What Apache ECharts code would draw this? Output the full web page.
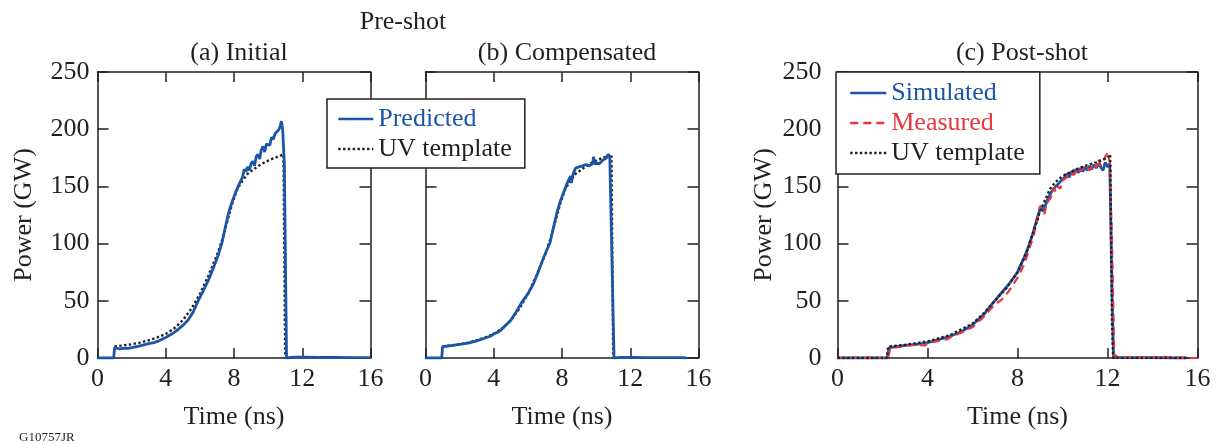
<!DOCTYPE html>
<html><head><meta charset="utf-8">
<script src="https://cdn.jsdelivr.net/npm/echarts@6/dist/echarts.min.js"></script>
<style>html,body{margin:0;padding:0;background:#fff}#c{width:1216px;height:445px}</style>
</head><body><div id="c"></div>
<script>
// ---- tick labels ----
const xTicks = [0, 4, 8, 12, 16];
const yTicks = [0, 50, 100, 150, 200, 250];

// ---- panel (a) Initial ----
const predA_t = [0, 0.95, 1.0, 1.1, 1.3, 1.5, 1.8, 2.0, 2.3, 2.6, 3.0, 3.3, 3.6, 4.0, 4.3, 4.6, 5.0, 5.3, 5.6, 5.9, 6.2, 6.5, 6.8, 7.1, 7.3, 7.5, 7.7, 7.9, 8.1, 8.3, 8.5, 8.6, 8.7, 8.8, 8.9, 9.0, 9.1, 9.2, 9.3, 9.4, 9.5, 9.6, 9.7, 9.8, 9.9, 10.0, 10.1, 10.2, 10.3, 10.4, 10.5, 10.6, 10.7, 10.78, 10.85, 10.95, 11.08, 11.5, 12, 13, 14, 15, 16];
const predA_p = [0, 0, 9, 8.5, 8, 8.5, 8.5, 9, 10, 11, 12.5, 13.5, 15, 18, 20.5, 23.5, 28.5, 33, 40, 50, 59, 68, 79, 91, 101, 115, 128, 137, 145, 152, 158, 165, 163, 167, 164, 170, 172, 168, 176, 178, 174, 182, 185, 180, 187, 188, 186, 193, 191, 196, 197, 199, 202, 207, 200, 170, 0, 0.8, 0.8, 0.5, 0.5, 0.3, 0.3];

// ---- UV template (pre-shot, panels a and b) ----
const tmpl_t = [1.0, 1.5, 2.0, 2.5, 3.0, 3.5, 4.0, 4.5, 5.0, 5.5, 6.0, 6.5, 7.0, 7.3, 7.6, 7.9, 8.2, 8.5, 8.8, 9.2, 9.6, 10.0, 10.4, 10.9, 11.0];
const tmpl_p = [10, 11, 12, 13.5, 15.5, 18, 21, 26, 33, 43, 56, 72, 90, 103, 119, 135, 148, 155, 161, 165.5, 169.5, 172.5, 175, 178, 0];

// ---- panel (b) Compensated ----
const predB_t = [0, 0.95, 1.0, 1.3, 1.6, 2.0, 2.5, 3.0, 3.5, 3.8, 4.0, 4.3, 4.6, 5.0, 5.3, 5.7, 6.0, 6.3, 6.6, 6.9, 7.1, 7.3, 7.5, 7.7, 7.9, 8.1, 8.23, 8.4, 8.5, 8.55, 8.6, 8.7, 8.8, 9.0, 9.2, 9.4, 9.6, 9.8, 9.85, 9.9, 10.0, 10.2, 10.4, 10.5, 10.6, 10.7, 10.8, 11.05, 11.5, 12, 13, 14, 15, 15.3];
const predB_p = [0, 0, 10, 10.5, 11, 12, 13, 15, 17.5, 19, 21, 23, 27, 33, 40, 50, 56, 64, 75, 87, 94, 101, 114, 127, 137, 145, 150, 156, 159, 153, 158, 163, 166, 167, 168, 169, 168, 170, 176, 170, 171, 170, 173, 174, 175, 178, 176, 0, 0.5, 0.5, 0.3, 0.3, 0.3, 0];

// ---- panel (c) Post-shot ----
const simC_t = [0, 1, 2.2, 2.3, 2.6, 3.0, 3.5, 4.0, 4.5, 5.0, 5.5, 6.0, 6.5, 6.9, 7.2, 7.6, 8.0, 8.3, 8.5, 8.7, 8.9, 9.05, 9.15, 9.25, 9.35, 9.5, 9.7, 9.9, 10.1, 10.2, 10.3, 10.4, 10.5, 10.6, 10.7, 10.8, 10.9, 11.0, 11.1, 11.2, 11.3, 11.4, 11.5, 11.6, 11.7, 11.8, 11.9, 12.0, 12.1, 12.2, 12.27, 12.5, 13, 14, 15, 15.5];
const simC_p = [0, 0, 0, 9, 10, 11, 12, 13.5, 16, 19, 23, 29, 38, 48, 55, 64, 75, 88, 98, 110, 124, 133, 128, 134, 139, 145, 150, 154, 158, 161, 158, 163, 161, 165, 162, 166, 163, 167, 164, 168, 165, 169, 166, 170, 167, 164, 171, 167, 170, 60, 1, 0.5, 0.3, 0.3, 0, 0];
const measC_t = [0, 0.5, 1, 1.5, 2.0, 2.25, 2.35, 2.7, 3.0, 3.5, 3.9, 4.0, 4.5, 4.9, 5.0, 5.5, 6.0, 6.5, 7.0, 7.3, 7.6, 8.0, 8.3, 8.5, 8.7, 8.9, 9.0, 9.1, 9.2, 9.3, 9.5, 9.6, 9.7, 9.8, 9.9, 10.0, 10.2, 10.3, 10.5, 10.7, 10.8, 11.0, 11.2, 11.4, 11.5, 11.6, 11.7, 11.8, 11.9, 12.0, 12.1, 12.2, 12.3, 12.5, 13, 13.5, 14, 14.5, 15, 15.5, 16];
const measC_p = [0, 0.3, 0, 0.3, 0, 0, 9, 9.5, 10.5, 11.5, 11, 13, 15, 16.5, 18, 22, 27, 36, 47, 51, 58, 70, 82, 94, 106, 122, 133, 128, 126, 135, 141, 149, 145, 150, 148, 155, 158, 162, 160, 166, 163, 168, 164, 170, 166, 174, 168, 172, 176, 179, 172, 100, 3, 0.3, 0.5, 0.3, 0.5, 1, 0.5, 0, 0];
const tmplC_t = [0, 2.2, 2.25, 3.0, 4.0, 5.0, 6.0, 6.5, 7.0, 7.5, 8.0, 8.4, 8.7, 9.0, 9.2, 9.45, 9.7, 10.0, 10.5, 11.0, 11.5, 12.0, 12.12, 12.2, 12.25, 13, 14, 15, 15.5];
const tmplC_p = [0, 0, 10, 11.5, 14.5, 20, 30, 39, 50, 61, 75, 92, 110, 128, 137, 148, 154, 159, 164, 168, 171, 175, 178, 30, 0, 0, 0, 0, 0];

// ---- style ----
const FONT = 'Liberation Serif';
const INK = '#231f20';
const BLUE = '#1b56a6';
const RED = '#e8363f';
const FS = 26;

const zip = (t, p) => t.map((v, i) => [v, p[i]]);

const grids = [
  {left: 97.5, top: 72, width: 273, height: 286},
  {left: 425.5, top: 72, width: 273, height: 286},
  {left: 837.5, top: 72, width: 360, height: 286}
];

function xAx(g, pos, show) {
  return {
    type: 'value', gridIndex: g, position: pos,
    min: xTicks[0], max: xTicks[xTicks.length - 1], interval: xTicks[1] - xTicks[0],
    axisLine: {show: true, onZero: false, lineStyle: {color: INK, width: 1.5}},
    axisTick: {show: true, inside: true, length: 10, lineStyle: {color: INK, width: 1.5}},
    axisLabel: {show: show, fontSize: FS, color: INK, fontFamily: FONT, margin: 8},
    splitLine: {show: false},
    name: show ? 'Time (ns)' : '', nameLocation: 'middle', nameGap: 46,
    nameTextStyle: {fontSize: FS, color: INK, fontFamily: FONT}
  };
}
function yAx(g, pos, show, title, margin) {
  return {
    type: 'value', gridIndex: g, position: pos,
    min: yTicks[0], max: yTicks[yTicks.length - 1], interval: yTicks[1] - yTicks[0],
    axisLine: {show: true, onZero: false, lineStyle: {color: INK, width: 1.5}},
    axisTick: {show: true, inside: true, length: 11, lineStyle: {color: INK, width: 1.5}},
    axisLabel: {show: show, fontSize: FS, color: INK, fontFamily: FONT, margin: margin || 8},
    splitLine: {show: false},
    name: title ? 'Power (GW)' : '', nameLocation: 'middle', nameGap: 60,
    nameTextStyle: {fontSize: FS, color: INK, fontFamily: FONT}
  };
}

const blueLine = {color: BLUE, width: 2.8};
const dotLine = {color: INK, width: 2.4, type: [2.4, 2.4]};
const redLine = {color: RED, width: 2.2, type: [8, 5]};

function ser(name, x, y, data, ls, z) {
  return {name, type: 'line', xAxisIndex: x, yAxisIndex: y, data, showSymbol: false, symbol: 'none',
    lineStyle: ls, itemStyle: {color: ls.color}, z: z, animation: false};
}

const legendBase = {
  orient: 'vertical', itemHeight: 12, itemGap: 4, itemTextGap: 5,
  borderColor: INK, borderWidth: 1.5, backgroundColor: '#fff',
  itemStyle: {opacity: 0},
  lineStyle: {width: 2.5},
  textStyle: {fontSize: FS, color: INK, fontFamily: FONT}
};

const option = {
  animation: false,
  textStyle: {fontFamily: FONT},
  title: [
    {text: 'Pre-shot', left: 398, top: 4, textAlign: 'center', textStyle: {fontSize: FS, fontWeight: 'normal', color: INK, fontFamily: FONT}},
    {text: '(a) Initial', left: 234, top: 35, textAlign: 'center', textStyle: {fontSize: FS, fontWeight: 'normal', color: INK, fontFamily: FONT}},
    {text: '(b) Compensated', left: 562, top: 35, textAlign: 'center', textStyle: {fontSize: FS, fontWeight: 'normal', color: INK, fontFamily: FONT}},
    {text: '(c) Post-shot', left: 1017, top: 35, textAlign: 'center', textStyle: {fontSize: FS, fontWeight: 'normal', color: INK, fontFamily: FONT}},
    {text: 'G10757JR', left: 14, top: 426, textStyle: {fontSize: 13, fontWeight: 'normal', color: INK, fontFamily: FONT}}
  ],
  legend: [
    Object.assign({}, legendBase, {
      left: 327, top: 99, itemWidth: 35, padding: [7, 13, 6, 10],
      data: [{name: 'Predicted', textStyle: {color: BLUE}}, {name: 'UV template'}]
    }),
    Object.assign({}, legendBase, {
      left: 836, top: 72, itemWidth: 36, padding: [8, 15, 8, 13],
      data: [{name: 'Simulated', textStyle: {color: BLUE}}, {name: 'Measured', textStyle: {color: RED}}, {name: 'UV template'}]
    })
  ],
  grid: grids,
  xAxis: [xAx(0, 'bottom', true), xAx(0, 'top', false), xAx(1, 'bottom', true), xAx(1, 'top', false), xAx(2, 'bottom', true), xAx(2, 'top', false)],
  yAxis: [yAx(0, 'left', true, true), yAx(0, 'right', false), yAx(1, 'left', false), yAx(1, 'right', false), yAx(2, 'left', true, true, 16), yAx(2, 'right', false)],
  series: [
    ser('UV template', 0, 0, zip(tmpl_t, tmpl_p), dotLine, 2),
    ser('Predicted', 0, 0, zip(predA_t, predA_p), blueLine, 3),
    ser('UV template', 2, 2, zip(tmpl_t, tmpl_p), dotLine, 2),
    ser('Predicted', 2, 2, zip(predB_t, predB_p), blueLine, 3),
    ser('Simulated', 4, 4, zip(simC_t, simC_p), blueLine, 2),
    ser('Measured', 4, 4, zip(measC_t, measC_p), redLine, 3),
    ser('UV template', 4, 4, zip(tmplC_t, tmplC_p), dotLine, 4)
  ]
};
const chart = echarts.init(document.getElementById('c'), null, {renderer: 'canvas'});
chart.setOption(option);
</script></body></html>
